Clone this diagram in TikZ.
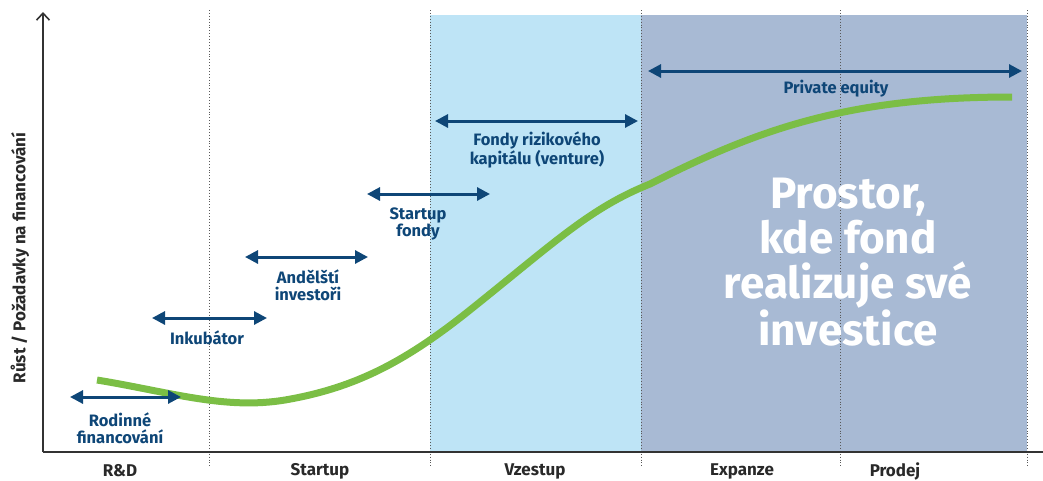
\documentclass[tikz,border=0pt]{standalone}
\usepackage{fontspec}
\setmainfont{Fira Sans}
\usetikzlibrary{arrows.meta}
\definecolor{navy}{HTML}{0E4677}
\definecolor{lightblue}{HTML}{BEE4F6}
\definecolor{darkreg}{HTML}{A8BAD4}
\definecolor{curvegreen}{HTML}{7BBE45}
\definecolor{axisgray}{HTML}{333333}
\tikzset{
  spanarrow/.style={draw=navy, line width=3pt, {Triangle[width=13pt,length=13pt]}-{Triangle[width=13pt,length=13pt]}},
  lbl/.style={text=navy, font=\fontsize{16.5}{17.5}\selectfont\bfseries, align=center, inner sep=0pt},
  stage/.style={text=axisgray!80!black, font=\fontsize{17}{18}\selectfont\bfseries, inner sep=0pt},
  divider/.style={draw=gray!70!black, line width=0.9pt, dotted},
  big/.style={text=white, font=\fontsize{44}{45}\selectfont\bfseries, align=center, inner sep=0pt}
}
\begin{document}
\begin{tikzpicture}[x=1pt,y=-1pt]
\useasboundingbox (0,0) rectangle (1043,480);
% regions
\fill[lightblue] (430,15) rectangle (641,452);
\fill[darkreg] (641,15) rectangle (1027,452);
% dividers
\foreach \xx in {209,430,641,840,1027}
  \draw[divider] (\xx,10) -- (\xx,466);
% axes
\draw[axisgray, line width=1.6pt] (43,452) -- (1043,452);
\draw[axisgray, line width=1.6pt, -{Straight Barb[length=7pt,width=13pt]}] (43,452) -- (43,12);
% y label
\node[stage, rotate=90] (ylab) at (20,258) {Růst / Požadavky na financování};
% stage labels
\node[stage] (rd) at (120,471) {R\&D};
\node[stage] (st) at (320,471) {Startup};
\node[stage] (vz) at (535,471) {Vzestup};
\node[stage] (ex) at (742,471) {Expanze};
\node[stage] (pr) at (895,471) {Prodej};
% growth curve
\draw[curvegreen, line width=7pt]
  (97,380) .. controls (170,392) and (225,410) .. (285,400)
  .. controls (355,388) and (405,362) .. (470,310)
  .. controls (555,242) and (590,208) .. (650,184)
  .. controls (760,128) and (850,97) .. (1012,97);
% big text
\node[big] (space) at (848,262) {Prostor,\\kde fond\\realizuje své\\investice};
% ranges
\coordinate (a1) at (70,397); \coordinate (a2) at (181,397);
\draw[spanarrow] (a1) -- (a2);
\node[lbl] (rod) at (120,428) {Rodinné\\financování};
\coordinate (b1) at (152,318); \coordinate (b2) at (267,318);
\draw[spanarrow] (b1) -- (b2);
\node[lbl] (ink) at (207,338) {Inkubátor};
\coordinate (c1) at (245,257); \coordinate (c2) at (368,257);
\draw[spanarrow] (c1) -- (c2);
\node[lbl] (and) at (308,285) {Andělští\\investoři};
\coordinate (d1) at (367,194); \coordinate (d2) at (490,194);
\draw[spanarrow] (d1) -- (d2);
\node[lbl] (sf) at (418,224) {Startup\\fondy};
\coordinate (e1) at (435,121); \coordinate (e2) at (638,121);
\draw[spanarrow] (e1) -- (e2);
\node[lbl] (vc) at (537,150) {Fondy rizikového\\kapitálu (venture)};
\coordinate (f1) at (648,71); \coordinate (f2) at (1022,71);
\draw[spanarrow] (f1) -- (f2);
\node[lbl] (pe) at (836,89) {Private equity};
\end{tikzpicture}
\end{document}
